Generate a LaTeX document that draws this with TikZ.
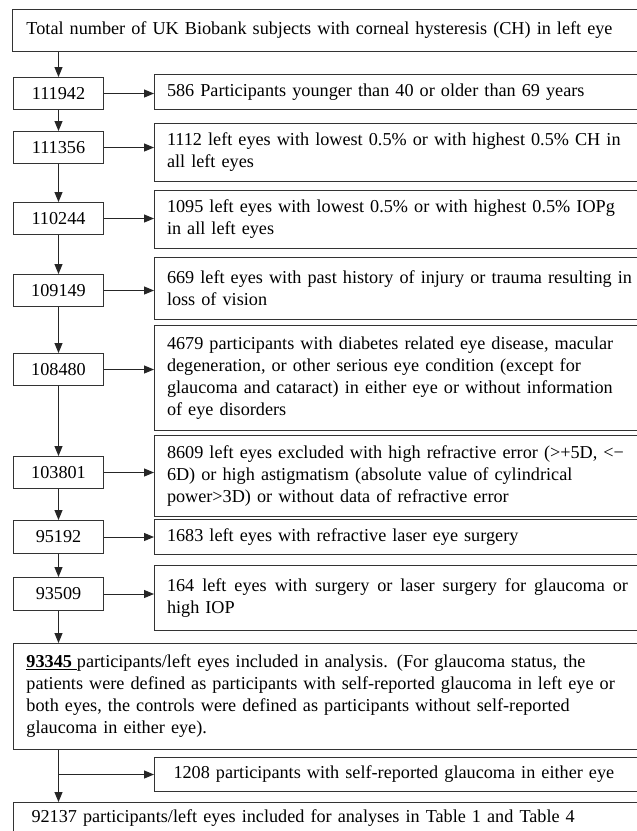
\documentclass[tikz,border=0pt]{standalone}
\usepackage{fontspec}
\setmainfont{Liberation Serif}
\usetikzlibrary{arrows.meta}
\begin{document}
\begin{tikzpicture}[x=1pt,y=-1pt,
  every node/.style={font=\fontsize{18.2}{22}\selectfont},
  lbox/.style={draw=black!80, line width=1pt, anchor=north west, minimum width=90pt, minimum height=32pt, inner sep=0pt, align=center},
  rbox/.style={draw=black!80, line width=1pt, anchor=north west, text width=490pt, inner xsep=12.5pt, inner ysep=0pt, align=left},
  wbox/.style={draw=black!80, line width=1pt, anchor=north west, text width=615pt, inner xsep=14pt, inner ysep=0pt, align=left},
  arr/.style={draw=black!85, line width=1pt, -{Triangle[length=10pt,width=8pt]}}
]
\clip (0,0) rectangle (637,831);
\fill[white] (0,0) rectangle (637,831);

\node[wbox, minimum height=42pt] (top) at (12,9) {Total number of UK Biobank subjects with corneal hysteresis (CH) in left eye};

\node[lbox] (n1) at (13,77) {111942};
\node[lbox] (n2) at (13,131) {111356};
\node[lbox] (n3) at (13,202) {110244};
\node[lbox] (n4) at (13,274) {109149};
\node[lbox] (n5) at (13,353) {108480};
\node[lbox] (n6) at (13,456) {103801};
\node[lbox, minimum height=33pt] (n7) at (13,520) {95192};
\node[lbox, minimum height=33pt] (n8) at (13,577) {93509};

\node[rbox, minimum height=35pt] (r1) at (154,74) {586 Participants younger than 40 or older than 69 years};
\node[rbox, minimum height=58pt] (r2) at (154,123) {1112 left eyes with lowest 0.5\% or with highest 0.5\% CH in\\all left eyes};
\node[rbox, minimum height=58pt] (r3) at (154,190) {1095 left eyes with lowest 0.5\% or with highest 0.5\% IOPg\\in all left eyes};
\node[rbox, minimum height=62pt] (r4) at (154,257) {669 left eyes with past history of injury or trauma resulting in\\loss of vision};
\node[rbox, minimum height=105pt] (r5) at (154,325) {4679 participants with diabetes related eye disease, macular\\degeneration, or other serious eye condition (except for\\glaucoma and cataract) in either eye or without information\\of eye disorders};
\node[rbox, minimum height=81pt] (r6) at (154,435) {8609 left eyes excluded with high refractive error (>+5D, <−\\6D) or high astigmatism (absolute value of cylindrical\\power>3D) or without data of refractive error};
\node[rbox, minimum height=35pt] (r7) at (154,519) {1683 left eyes with refractive laser eye surgery};
\node[rbox, minimum height=65pt] (r8) at (154,565) {\hbox to 461pt{164 \hfill left \hfill eyes \hfill with \hfill surgery \hfill or \hfill laser \hfill surgery \hfill for \hfill glaucoma \hfill or}\\high IOP};

\node[wbox, inner xsep=13pt, minimum height=106pt] (big) at (13,643) {\underline{\textbf{93345}\hspace{5pt}}participants/left eyes included in analysis. (For glaucoma status, the\\patients were defined as participants with self-reported glaucoma in left eye or\\both eyes, the controls were defined as participants without self-reported\\glaucoma in either eye).};

\node[rbox, inner xsep=19pt, minimum height=34pt] (g) at (154,757) {1208 participants with self-reported glaucoma in either eye};
\node[wbox, inner xsep=18pt, minimum height=32pt] (fin) at (13,802) {92137 participants/left eyes included for analyses in Table 1 and Table 4};

\draw[arr] (top.south -| n1.north) -- (n1.north);
\draw[arr] (n1.south) -- (n2.north);
\draw[arr] (n2.south) -- (n3.north);
\draw[arr] (n3.south) -- (n4.north);
\draw[arr] (n4.south) -- (n5.north);
\draw[arr] (n5.south) -- (n6.north);
\draw[arr] (n6.south) -- (n7.north);
\draw[arr] (n7.south) -- (n8.north);
\draw[arr] (n8.south) -- (n8.south |- big.north);

\draw[arr] (n1.east) -- (n1.east -| r1.west);
\draw[arr] (n2.east) -- (n2.east -| r2.west);
\draw[arr] (n3.east) -- (n3.east -| r3.west);
\draw[arr] (n4.east) -- (n4.east -| r4.west);
\draw[arr] (n5.east) -- (n5.east -| r5.west);
\draw[arr] (n6.east) -- (n6.east -| r6.west);
\draw[arr] (n7.east) -- (n7.east -| r7.west);
\draw[arr] (n8.east) -- (n8.east -| r8.west);

\draw[arr] (n8.south |- big.south) -- (n8.south |- fin.north);
\draw[arr] (n8.south |- g.west) -- (g.west);
\end{tikzpicture}
\end{document}
